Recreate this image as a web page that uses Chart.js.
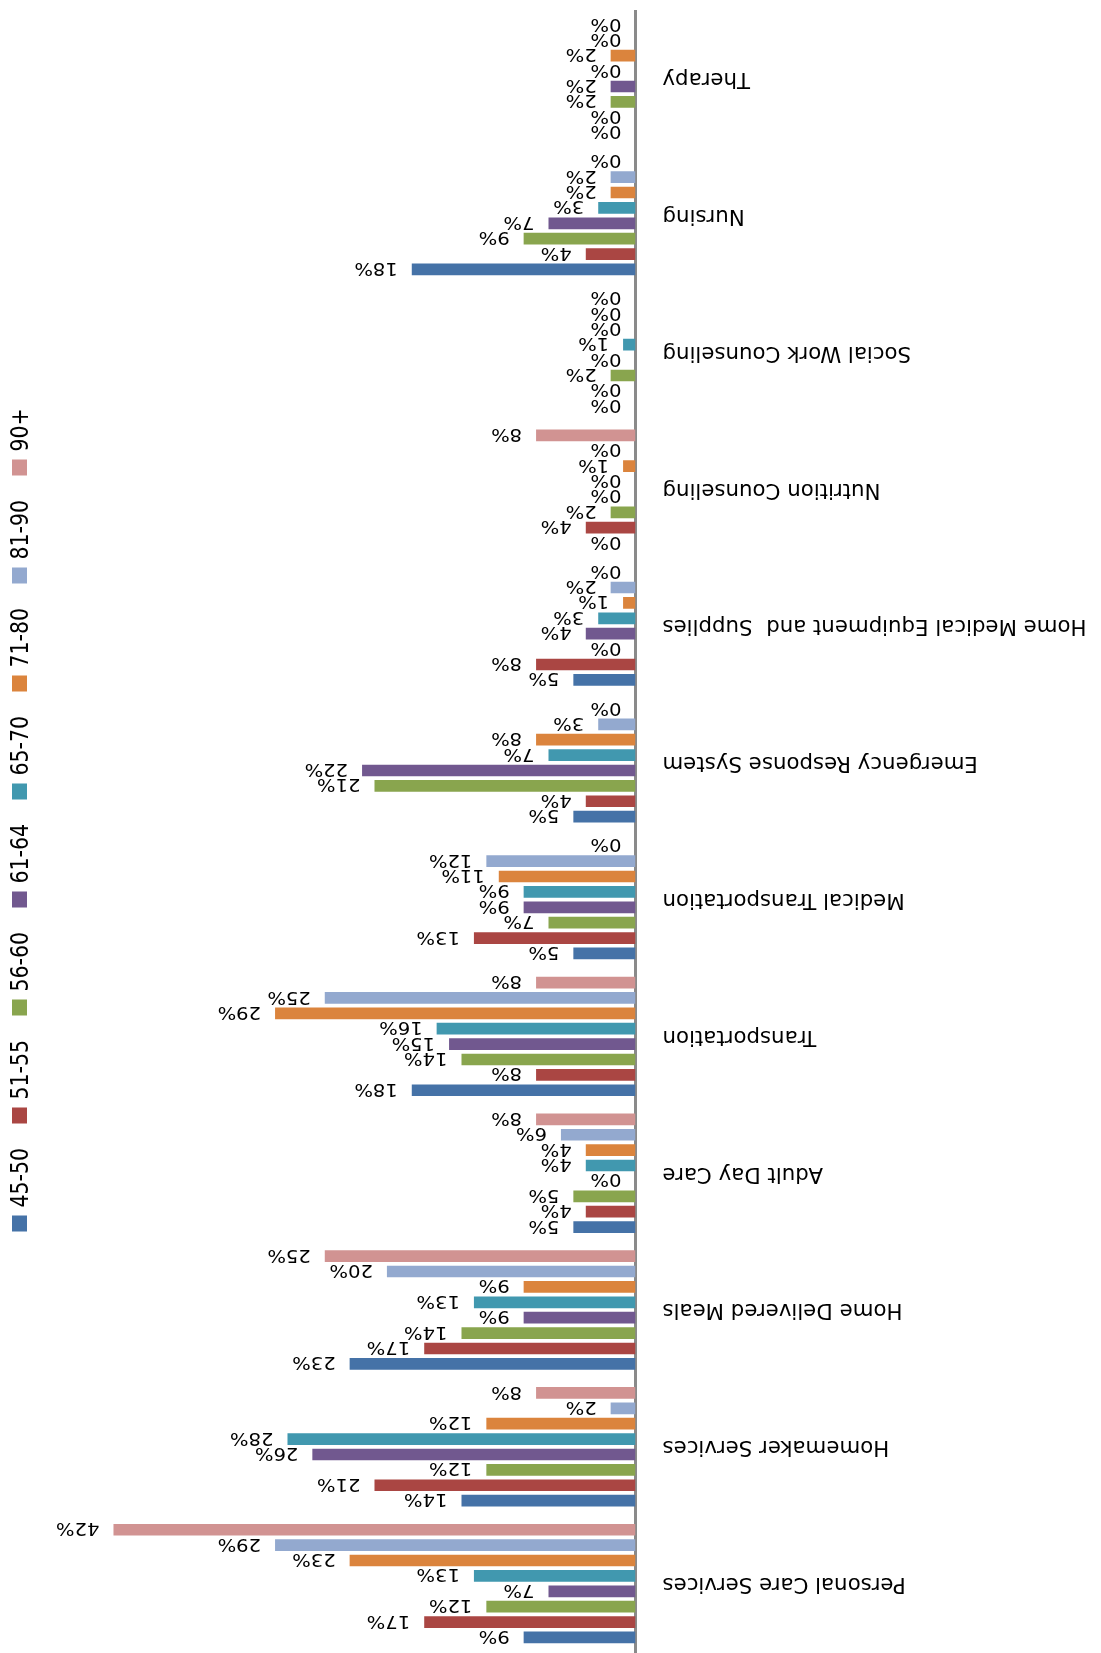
<!DOCTYPE html>
<html><head><meta charset="utf-8">
<script src="https://cdn.jsdelivr.net/npm/chart.js@4.4.1/dist/chart.umd.min.js"></script>
<style>
html,body{margin:0;padding:0;background:#fff;overflow:hidden;}
#wrap{width:1101px;height:1653px;transform:rotate(180deg);transform-origin:50% 50%;}
canvas{display:block;}
</style></head><body>
<div id="wrap"><canvas id="c" width="1101" height="1653"></canvas></div>
<script>
// ---- data ----
const categories = [
  'Personal Care Services',
  'Homemaker Services',
  'Home Delivered Meals',
  'Adult Day Care',
  'Transportation',
  'Medical Transportation',
  'Emergency Response System',
  'Home Medical Equipment and  Supplies',
  'Nutrition Counseling',
  'Social Work Counseling',
  'Nursing',
  'Therapy'
];
const seriesNames = ['45-50', '51-55', '56-60', '61-64', '65-70', '71-80', '81-90', '90+'];
const age45_50 = [9, 14, 23, 5, 18, 5, 5, 5, 0, 0, 18, 0];
const age51_55 = [17, 21, 17, 4, 8, 13, 4, 8, 4, 0, 4, 0];
const age56_60 = [12, 12, 14, 5, 14, 7, 21, 0, 2, 2, 9, 2];
const age61_64 = [7, 26, 9, 0, 15, 9, 22, 4, 0, 0, 7, 2];
const age65_70 = [13, 28, 13, 4, 16, 9, 7, 3, 0, 1, 3, 0];
const age71_80 = [23, 12, 9, 4, 29, 11, 8, 1, 1, 0, 2, 2];
const age81_90 = [29, 2, 20, 6, 25, 12, 3, 2, 0, 0, 2, 0];
const age90plus = [42, 8, 25, 8, 8, 0, 0, 0, 8, 0, 0, 0];
const seriesColors = ['#4572A7', '#AA4643', '#89A54E', '#71588F', '#4198AF', '#DB843D', '#93A9CF', '#D19392'];

const seriesValues = [age45_50, age51_55, age56_60, age61_64, age65_70, age71_80, age81_90, age90plus];

Chart.defaults.font.family = '"DejaVu Sans", Verdana, sans-serif';

const pctLabels = {
  id: 'pctLabels',
  afterDatasetsDraw(chart) {
    const ctx = chart.ctx;
    ctx.save();
    ctx.font = '17px "DejaVu Sans"';
    ctx.fillStyle = '#000';
    ctx.textAlign = 'left';
    ctx.textBaseline = 'middle';
    chart.data.datasets.forEach((ds, di) => {
      const meta = chart.getDatasetMeta(di);
      meta.data.forEach((bar, i) => {
        ctx.save();
        ctx.translate(bar.x + 14, bar.y + 2);
        ctx.scale(1.15, 1);
        ctx.fillText(ds.data[i] + '%', 0, 0);
        ctx.restore();
      });
    });
    ctx.restore();
  }
};

const sideLegend = {
  id: 'sideLegend',
  afterDraw(chart) {
    const ctx = chart.ctx;
    ctx.save();
    ctx.font = '20.5px "DejaVu Sans"';
    ctx.textAlign = 'left';
    ctx.textBaseline = 'middle';
    chart.data.datasets.forEach((ds, i) => {
      const cy = 429.5 + 108 * i;
      ctx.fillStyle = ds.backgroundColor;
      ctx.fillRect(1074, cy - 8, 15, 16);
      ctx.fillStyle = '#000';
      ctx.save();
      ctx.translate(1079.5, cy + 16);
      ctx.scale(1.2, 1);
      ctx.rotate(Math.PI / 2);
      ctx.fillText(ds.label, 0, 0);
      ctx.restore();
    });
    ctx.restore();
  }
};

new Chart(document.getElementById('c'), {
  type: 'bar',
  data: {
    labels: categories,
    datasets: seriesNames.map((name, i) => ({
      label: name,
      data: seriesValues[i],
      backgroundColor: seriesColors[i],
      borderWidth: 0,
      categoryPercentage: 0.9,
      barPercentage: 0.76
    }))
  },
  options: {
    indexAxis: 'y',
    responsive: false,
    animation: false,
    devicePixelRatio: 1,
    layout: { padding: { left: 0, right: 38.9, top: 1, bottom: 10.4 } },
    plugins: { legend: { display: false }, tooltip: { enabled: false } },
    scales: {
      x: { display: false, min: 0, max: 48 },
      y: {
        afterFit(scale) { scale.width = 465.5; scale.paddingTop = 0; scale.paddingBottom = 0; },
        grid: { display: false, drawTicks: false },
        border: { display: true, color: '#8a8a8a', width: 3 },
        ticks: { color: '#000', padding: 27, font: { size: 21.3 }, autoSkip: false }
      }
    }
  },
  plugins: [pctLabels, sideLegend]
});
</script>
</body></html>
